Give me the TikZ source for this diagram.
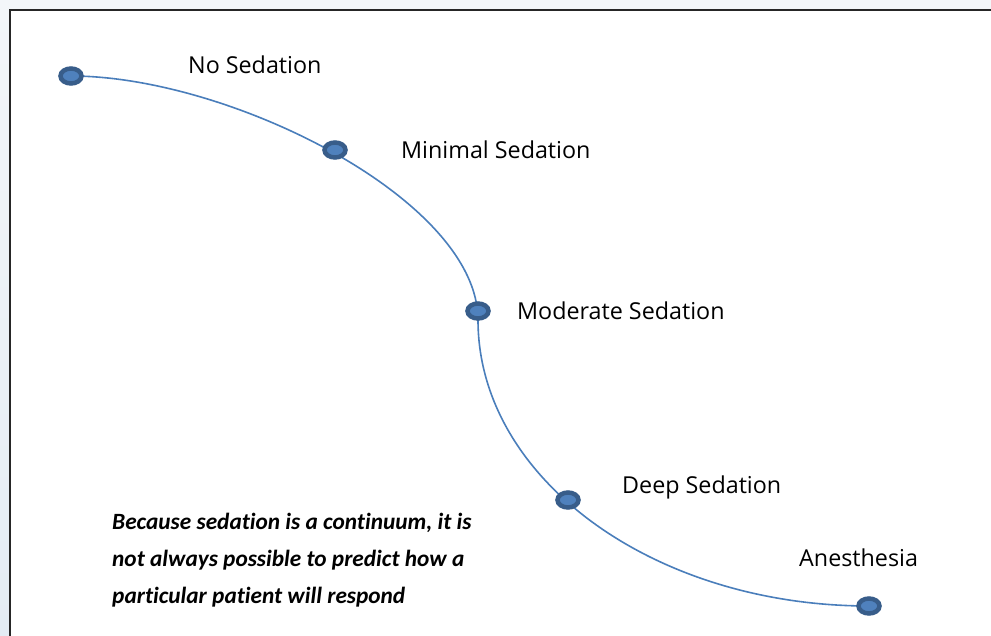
\documentclass[tikz,border=0pt]{standalone}
\usepackage{fontspec}
\setmainfont{Open Sans}
\newfontfamily\calib[Ligatures=NoCommon]{Carlito}
\definecolor{dotout}{HTML}{385D8A}
\definecolor{dotin}{HTML}{4F81BD}
\definecolor{curve}{HTML}{4A7EBB}
\definecolor{outbg}{HTML}{F3F6F9}
\definecolor{outbg2}{HTML}{E4ECF4}
\tikzset{
  dot/.style={ellipse, draw=dotout, line width=4.5pt, fill=dotin, minimum width=21pt, minimum height=15pt, inner sep=0pt},
  lbl/.style={anchor=west, inner sep=0pt, font=\fontsize{23.3}{26}\selectfont},
  note/.style={anchor=north west, inner sep=0pt, align=left, font=\calib\bfseries\itshape\fontsize{23.3}{37}\selectfont}
}
\usetikzlibrary{shapes.geometric}
\begin{document}
\begin{tikzpicture}[x=1pt,y=-1pt]
\useasboundingbox (0,0) rectangle (991,636);
\fill[top color=outbg, bottom color=outbg2] (0,0) rectangle (991,636);
\fill[white] (10,10) rectangle (991,636);
\draw[line width=2pt, black!85] (10,636) -- (10,10) -- (991,10);
\coordinate (mid) at (478,320);
\draw[curve, line width=1.6pt] (71,76) .. controls (230,76) and (478,200) .. (mid)
  .. controls (478,478) and (653,606) .. (869,606);
\node[dot] (n0) at (71,76) {};
\node[dot] (n1) at (335,150) {};
\node[dot] (n2) at (478,311) {};
\node[dot] (n3) at (568,500) {};
\node[dot] (n4) at (869,606) {};
\node[lbl] (l0) at (188,65) {No Sedation};
\node[lbl] (l1) at (401,150) {Minimal Sedation};
\node[lbl] (l2) at (517,311) {Moderate Sedation};
\node[lbl] (l3) at (622,487) {Deep Sedation};
\node[lbl] (l4) at (799,558) {Anesthesia};
\node[note] (txt) at (112,513) {Because sedation is a continuum, it is\\not always possible to predict how a\\particular patient will respond};
\end{tikzpicture}
\end{document}
